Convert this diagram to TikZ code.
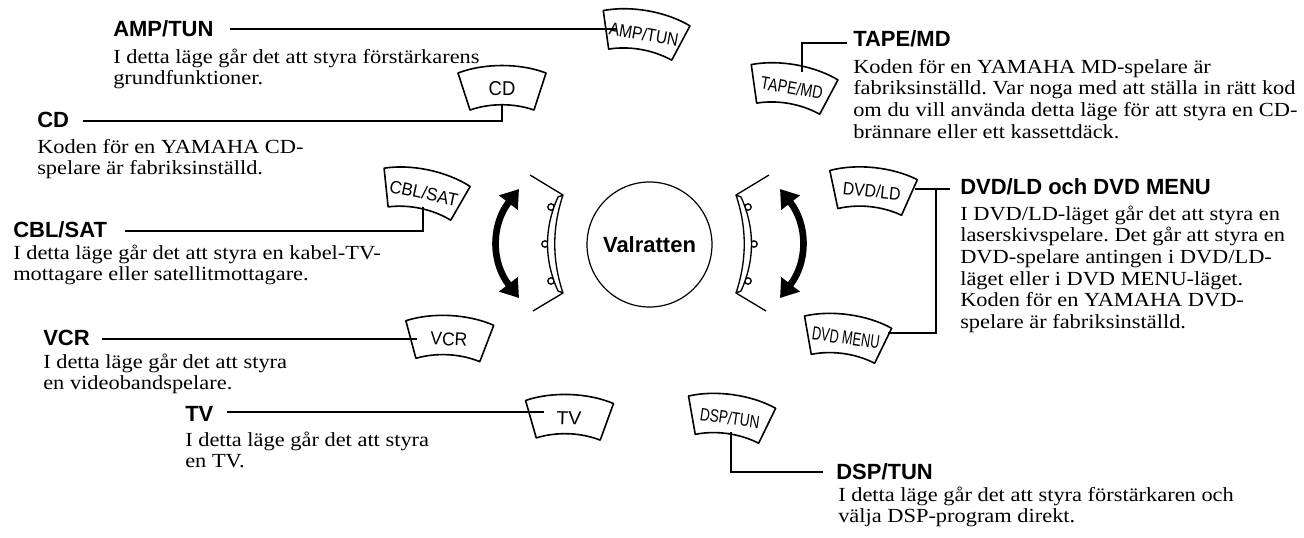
\documentclass[tikz,border=0pt]{standalone}
\usepackage{fontspec}
\usepackage{graphicx}
\usetikzlibrary{arrows.meta}
\setmainfont{Liberation Serif}
\newfontfamily\bodyf{Liberation Serif}[FakeStretch=1.12]
\newfontfamily\headf{Liberation Sans}
\newfontfamily\btnf{Liberation Sans}
\frenchspacing
\newcommand\modebtn[7]{%
  \begin{scope}[shift={(#2,#3)},rotate=#4]
    \draw[btnline] (-44,-15) .. controls (-18,-25) and (18,-25) .. (44,-15)
      -- (32,22) .. controls (12,15) and (-12,15) .. (-32,22) -- cycle;
    \node[btntext,rotate=#4] (#1) at (0,1) {\resizebox{#5}{#6}{\btnf #7}};
  \end{scope}}
\begin{document}
\begin{tikzpicture}[x=0.75pt,y=-0.75pt,
  head/.style={font=\headf\bfseries\fontsize{16.5pt}{18pt}\selectfont,inner sep=0pt,anchor=base west},
  bodytxt/.style={font=\bodyf\fontsize{15pt}{16.3pt}\selectfont,inner sep=0pt,anchor=base west},
  btnline/.style={line width=1.2pt,line join=round,fill=white},
  btntext/.style={inner sep=0pt},
  conn/.style={line width=2pt},
  brk/.style={line width=1pt,line join=round},
  turn/.style={line width=5pt,{Triangle[length=13pt,width=17pt]}-{Triangle[length=13pt,width=17pt]}}]
\fill[white] (0,0) rectangle (1304,537);
\useasboundingbox (0,0) rectangle (1304,537);

% ---- buttons
\modebtn{kAMP}{644}{33}{-10}{52.5pt}{9.75pt}{AMP/TUN}
\modebtn{kCD}{502}{88}{0}{20pt}{10.5pt}{CD}
\modebtn{kTAPE}{792}{87}{-10}{47pt}{9.75pt}{TAPE/MD}
\modebtn{kCBL}{424}{192}{-12}{52pt}{9.75pt}{CBL/SAT}
\modebtn{kDVD}{872}{190}{-6}{43.5pt}{9.75pt}{DVD/LD}
\modebtn{kVCR}{449}{338}{-3}{27.75pt}{9.75pt}{VCR}
\modebtn{kMENU}{846}{337}{-8}{51pt}{9.75pt}{DVD MENU}
\modebtn{kTV}{569}{417}{-2}{18.75pt}{9.75pt}{TV}
\modebtn{kDSP}{730}{417}{-8}{45pt}{9.75pt}{DSP/TUN}

% ---- dial
\node[circle,draw,line width=0.9pt,minimum size=93.75pt,inner sep=0pt,
  font=\headf\bfseries\fontsize{16.5pt}{18pt}\selectfont] (dial) at (649.5,244.5) {Valratten};

% left bracket
\draw[brk,fill=white] (551,207) circle (3.2);
\draw[brk,fill=white] (545,244) circle (3.2);
\draw[brk,fill=white] (551,281) circle (3.2);
\draw[brk,fill=white] (563,195) .. controls (552,228) and (552,260) .. (563,293)
  -- (558,291) .. controls (544,260) and (544,228) .. (558,197) -- cycle;
\draw[brk] (530,175) -- (563,195);
\draw[brk] (563,293) -- (533,311);
% right bracket
\draw[brk,fill=white] (748,207) circle (3.2);
\draw[brk,fill=white] (754,244) circle (3.2);
\draw[brk,fill=white] (748,281) circle (3.2);
\draw[brk,fill=white] (736,195) .. controls (747,228) and (747,260) .. (736,293)
  -- (741,291) .. controls (755,260) and (755,228) .. (741,197) -- cycle;
\draw[brk] (769,175) -- (736,195);
\draw[brk] (736,293) -- (766,311);
% turning arrows
\draw[turn] (519,189) .. controls (491,225) and (491,262) .. (519,298);
\draw[turn] (780,189) .. controls (808,225) and (808,262) .. (780,298);

% ---- headings
\node[head] (hAMP) at (113,36) {AMP/TUN};
\node[head] (hCD) at (37,127) {CD};
\node[head] (hCBL) at (13,237) {CBL/SAT};
\node[head] (hVCR) at (43,345) {VCR};
\node[head] (hTV) at (185,421) {TV};
\node[head] (hTAPE) at (853,46) {TAPE/MD};
\node[head] (hDVD) at (960,194) {DVD/LD och DVD MENU};
\node[head] (hDSP) at (836,479) {DSP/TUN};

% ---- bodies
\node[bodytxt] (bAMP) at (113,63) {\begin{tabular}[t]{@{}l@{}}I detta läge går det att styra förstärkarens\\grundfunktioner.\end{tabular}};
\node[bodytxt] (bCD) at (37,153) {\begin{tabular}[t]{@{}l@{}}Koden för en YAMAHA CD-\\spelare är fabriksinställd.\end{tabular}};
\node[bodytxt] (bCBL) at (13,259) {\begin{tabular}[t]{@{}l@{}}I detta läge går det att styra en kabel-TV-\\mottagare eller satellitmottagare.\end{tabular}};
\node[bodytxt] (bVCR) at (43,368) {\begin{tabular}[t]{@{}l@{}}I detta läge går det att styra\\en videobandspelare.\end{tabular}};
\node[bodytxt] (bTV) at (185,446) {\begin{tabular}[t]{@{}l@{}}I detta läge går det att styra\\en TV.\end{tabular}};
\node[bodytxt] (bTAPE) at (853,73) {\begin{tabular}[t]{@{}l@{}}Koden för en YAMAHA MD-spelare är\\fabriksinställd. Var noga med att ställa in rätt kod\\om du vill använda detta läge för att styra en CD-\\brännare eller ett kassettdäck.\end{tabular}};
\node[bodytxt] (bDVD) at (960,220) {\begin{tabular}[t]{@{}l@{}}I DVD/LD-läget går det att styra en\\laserskivspelare. Det går att styra en\\DVD-spelare antingen i DVD/LD-\\läget eller i DVD MENU-läget.\\Koden för en YAMAHA DVD-\\spelare är fabriksinställd.\end{tabular}};
\node[bodytxt] (bDSP) at (838,501) {\begin{tabular}[t]{@{}l@{}}I detta läge går det att styra förstärkaren och\\välja DSP-program direkt.\end{tabular}};

% ---- connectors
\coordinate (cAMPa) at (230,29);   \coordinate (cAMPb) at (617,29);
\coordinate (cCDa) at (83,121);    \coordinate (cCDb) at (502,104);
\coordinate (cCBLa) at (125,231);  \coordinate (cCBLb) at (423,207);
\coordinate (cVCRa) at (102,339);  \coordinate (cVCRb) at (417,339);
\coordinate (cTVa) at (227,412);   \coordinate (cTVb) at (544,412);
\coordinate (cTAPEa) at (847,43);  \coordinate (cTAPEb) at (802,72);
\coordinate (cDVDa) at (915,189);  \coordinate (cDVDb) at (950,189);
\coordinate (cDVDj) at (936,189);  \coordinate (cMENUb) at (888,333);
\coordinate (cDSPa) at (731,432);  \coordinate (cDSPb) at (823,472);
\draw[conn] (cAMPa) -- (cAMPb);
\draw[conn] (cCDa) -| (cCDb);
\draw[conn] (cCBLa) -| (cCBLb);
\draw[conn] (cVCRa) -- (cVCRb);
\draw[conn] (cTVa) -- (cTVb);
\draw[conn] (cTAPEa) -| (cTAPEb);
\draw[conn] (cDVDa) -- (cDVDb);
\draw[conn] (cDVDj) |- (cMENUb);
\draw[conn] (cDSPa) |- (cDSPb);
\end{tikzpicture}
\end{document}
